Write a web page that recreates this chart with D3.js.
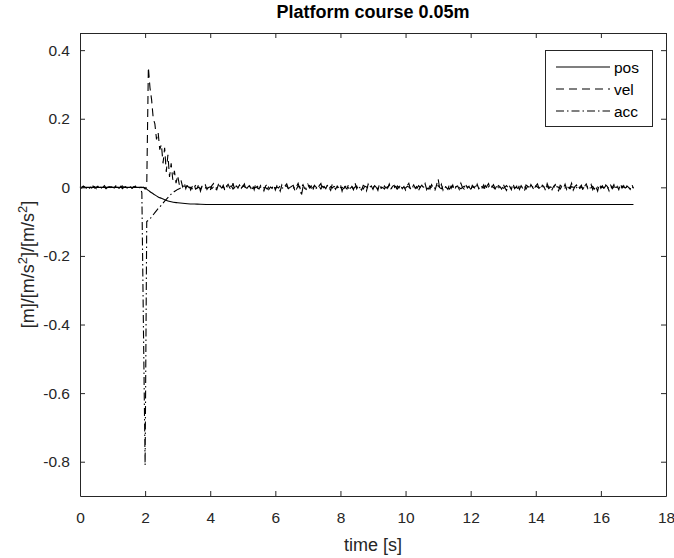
<!DOCTYPE html>
<html>
<head>
<meta charset="utf-8">
<script src="https://cdn.jsdelivr.net/npm/d3@7"></script>
<style>
body { margin: 0; background: #fff; }
text { font-family: "Liberation Sans", Arial, sans-serif; }
</style>
</head>
<body>
<div class="chart"></div>
<script>
var dt = 0.05; // sample step of vel/acc [s]
var xTicks = [0, 2, 4, 6, 8, 10, 12, 14, 16, 18];
var yTicks = [0.4, 0.2, 0, -0.2, -0.4, -0.6, -0.8];

// position (smooth step to -0.05 m)
var posT = [0, 1.95, 2.0, 2.1, 2.2, 2.3, 2.4, 2.5, 2.6, 2.8, 3.0, 3.3, 3.6, 4.0, 5, 17];
var posV = [0, 0, -0.002, -0.009, -0.016, -0.022, -0.028, -0.032, -0.036, -0.042, -0.045, -0.048, -0.049, -0.05, -0.05, -0.05];

// velocity, values in 1e-3
var velPre = [2,-1,3,0,-3,1,4,-2,0,2,-4,1,3,-1,0,5,-2,1,-3,2,0,-1,4,-2,1,3,-4,0,2,-1,3,1,-2,0,4,-3,1,2,-1,0];
var velPulse = [-5,3,350,290,255,200,185,140,160,110,125,70,115,45,95,30,70,22,48,12,35,8,22,2,14,-4,10];
var velPost = [
  6,-8,3,10,-5,-2,9,-11,4,0,7,-6,2,-9,5,11,-3,-7,8,1,
  -4,6,-10,3,9,-2,-6,12,-8,4,-1,7,-5,2,10,-9,0,5,-3,8,
  -7,11,-2,-5,6,3,-10,4,9,-6,1,-3,8,-8,5,2,-11,7,-1,4,
  10,-4,-7,3,6,-9,2,12,-5,0,8,-3,-6,9,-2,4,-10,6,1,-7,
  5,11,-8,2,-4,7,-1,-9,10,3,-6,4,-2,8,-11,6,0,-5,9,-3,
  2,-7,12,-4,5,-1,-8,6,3,-10,9,-2,4,-6,7,1,-9,11,-3,0,
  -5,8,-2,10,-7,3,6,-11,4,-1,9,-4,2,-8,5,12,-6,0,7,-3,
  4,-9,1,6,-2,11,-7,3,-5,8,-1,-10,6,25,-4,9,-8,5,0,-6,
  10,-3,7,-9,2,4,-6,12,-1,-5,8,-2,3,-11,6,1,-7,9,-4,5,
  -2,7,-10,4,11,-6,0,8,-3,-8,5,2,-5,10,-1,-9,6,3,-7,12,
  -4,1,9,-6,5,-2,-11,7,3,-5,8,0,-8,4,10,-3,-7,6,2,-9,
  11,-1,5,-7,3,8,-4,-10,6,1,-3,9,-6,4,-2,12,-8,2,7,-5,
  0,6,-9,3,10,-4,-2,8,-7,5,1,-11,9,-3,4,-6,7,2,-10,6,
  -1,8,-5,3,-7,10,-2,5,-8,4,0,-6,9,-3];

// acceleration, values in 1e-3
var accPre = [1,-2,3,0,-1,2,-3,1,4,-2,0,3,-1,-3,2,1,-4,0,2,-1,3,-2,1,0,-3,2,4,-1,0,-2,3,1,-3,2,0,-1,1,-2];
var accPulse = [-15,-420,-810,-100,-96,-92,-86,-80,-74,-68,-62,-57,-52,-46,-40,-35,-30,-25,-20,-16,-12,-9,-6,-4,-2,0];
var accPost = [
  3,-2,4,-1,0,-4,2,5,-3,1,-5,3,0,-2,4,-1,2,-4,1,3,
  -3,0,5,-2,1,-4,3,-1,2,4,-5,0,3,-2,1,-3,4,2,-1,-4,
  2,5,-3,0,-1,3,-4,1,4,-2,0,-5,2,3,-1,4,-3,1,-2,5,
  -1,-3,2,4,-4,0,3,-2,1,-5,4,2,-24,1,3,-4,0,5,-2,-1,
  4,-3,1,2,-5,3,0,-1,5,-4,2,-2,3,1,-3,4,-1,0,-4,2,
  5,-2,-1,3,-4,1,4,-3,0,2,-5,3,1,-2,4,-1,-3,5,0,-4,
  2,1,-3,4,-2,0,5,-4,1,-1,3,-5,2,4,-3,0,-2,3,1,-4,
  4,-1,2,-3,5,0,-4,1,3,-2,-5,4,0,2,-3,1,5,-1,-4,3,
  -2,3,0,-5,4,1,-3,2,5,-1,-4,0,3,-2,1,4,-5,2,-1,3,
  0,-3,4,1,-2,5,-4,2,-1,3,0,-5,4,-2,1,3,-3,0,5,-1,
  -4,2,3,-1,0,-3,5,1,-2,4,-5,3,0,-1,2,-4,4,1,-3,2,
  5,-2,0,3,-4,1,-1,4,-3,2,0,-5,3,1,-2,4,-1,-4,2,0,
  3,-1,5,-3,1,-4,2,0,4,-2,-1,3,-5,2,1,-3,4,0,-2,5,
  -3,1,4,-4,2,0,-1,3,-5,4,1,-2,3,0,-4,2,-1];

var W = 674, H = 558;
var axisColor = "#262626";
var svg = d3.select(".chart").append("svg")
  .attr("width", W).attr("height", H);

var x = d3.scaleLinear().domain([0, 18]).range([80, 666]);
var y = d3.scaleLinear().domain([-0.9, 0.45]).range([496, 33]);

//build series
function toPoints(arr) {
  return arr.map(function(v, i) { return [i * dt, v / 1000]; })
            .filter(function(p) { return p[0] <= 17.0001; });
}
var pos = posT.map(function(t, i) { return [t, posV[i]]; });
var vel = toPoints(velPre.concat(velPulse, velPost));
var acc = toPoints(accPre.concat(accPulse, accPost));

var line = d3.line()
  .x(function(d) { return x(d[0]); })
  .y(function(d) { return y(d[1]); });

var series = [
  {name: "pos", data: pos, dash: null},
  {name: "vel", data: vel, dash: "8,5"},
  {name: "acc", data: acc, dash: "8,3,1.5,3"}
];

svg.selectAll(".series")
  .data(series)
  .enter()
    .append("path")
      .attr("class", "series")
      .attr("d", function(d) {
        return d.name == "pos" ? line.curve(d3.curveMonotoneX)(d.data) : line.curve(d3.curveLinear)(d.data);
      })
      .attr("fill", "none")
      .attr("stroke", "#000")
      .attr("stroke-width", 1.1)
      .attr("stroke-dasharray", function(d) { return d.dash; });

//axes, ticks inside on all four sides
var tick = 5;
svg.append("g")
  .attr("transform", "translate(0," + y(-0.9) + ")")
  .call(d3.axisBottom(x).tickValues(xTicks).tickSizeInner(-tick).tickSizeOuter(0).tickPadding(16));
svg.append("g")
  .attr("transform", "translate(0," + y(0.45) + ")")
  .call(d3.axisTop(x).tickValues(xTicks).tickSizeInner(-tick).tickSizeOuter(0).tickFormat(""));
svg.append("g")
  .attr("transform", "translate(" + x(0) + ",0)")
  .call(d3.axisLeft(y).tickValues(yTicks).tickSizeInner(-tick).tickSizeOuter(0).tickPadding(10)
    .tickFormat(function(d) { return d === 0 ? "0" : d3.format(".1f")(d).replace("\u2212", "-"); }));
svg.append("g")
  .attr("transform", "translate(" + x(18) + ",0)")
  .call(d3.axisRight(y).tickValues(yTicks).tickSizeInner(-tick).tickSizeOuter(0).tickFormat(""));

svg.selectAll(".domain").attr("stroke", axisColor);
svg.selectAll(".tick line").attr("stroke", axisColor);
svg.selectAll(".tick text")
  .attr("fill", axisColor)
  .attr("font-size", "15.5px")
  .attr("font-family", "'Liberation Sans', Arial, sans-serif");

//title and labels
svg.append("text")
  .attr("x", 373).attr("y", 18)
  .attr("text-anchor", "middle")
  .attr("font-size", "18px").attr("font-weight", "bold")
  .attr("fill", "#000")
  .text("Platform course 0.05m");

svg.append("text")
  .attr("x", 373).attr("y", 551)
  .attr("text-anchor", "middle")
  .attr("font-size", "18px")
  .attr("fill", axisColor)
  .text("time [s]");

var ylab = svg.append("text")
  .attr("transform", "translate(34," + y(-0.225) + ") rotate(-90)")
  .attr("text-anchor", "middle")
  .attr("font-size", "18px")
  .attr("fill", axisColor);
ylab.append("tspan").text("[m]/[m/s");
ylab.append("tspan").attr("baseline-shift", "super").attr("font-size", "13px").text("2");
ylab.append("tspan").text("]/[m/s");
ylab.append("tspan").attr("baseline-shift", "super").attr("font-size", "13px").text("2");
ylab.append("tspan").text("]");

//legend
var legend = svg.append("g").attr("class", "legend");
legend.append("rect")
  .attr("x", 545.5).attr("y", 50.5)
  .attr("width", 107).attr("height", 76)
  .attr("fill", "#fff")
  .attr("stroke", axisColor);
var entries = legend.selectAll(".entry")
  .data(series)
  .enter()
    .append("g")
      .attr("transform", function(d, i) { return "translate(0," + (67 + i * 22) + ")"; });
entries.append("line")
  .attr("x1", 556).attr("x2", 610)
  .attr("stroke", "#000")
  .attr("stroke-width", 1.1)
  .attr("stroke-dasharray", function(d) { return d.dash; });
entries.append("text")
  .attr("x", 614).attr("y", 5.5)
  .attr("font-size", "15.5px")
  .attr("fill", "#000")
  .text(function(d) { return d.name; });
</script>
</body>
</html>
